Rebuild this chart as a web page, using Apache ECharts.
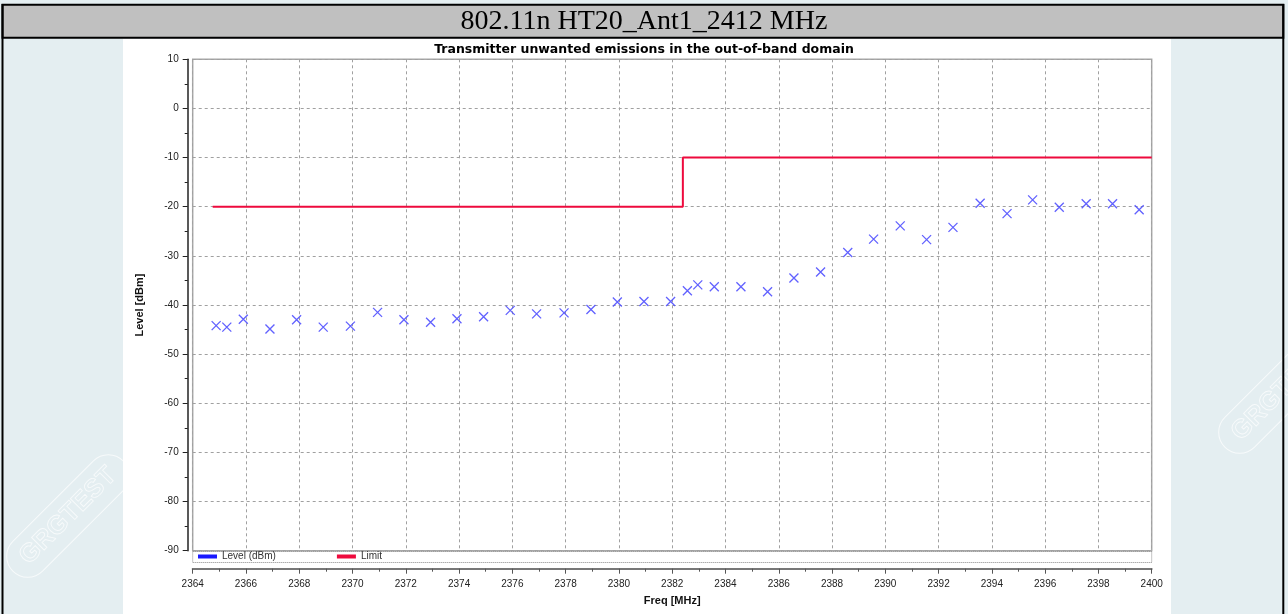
<!DOCTYPE html>
<html>
<head>
<meta charset="utf-8">
<script src="https://cdn.jsdelivr.net/npm/echarts@6/dist/echarts.min.js"></script>
<style>
  html, body { margin: 0; padding: 0; background: #e4eef1; }
  #chart { width: 1288px; height: 614px; }
</style>
</head>
<body>
<div id="chart"></div>
<script>
// Header and chart captions
const pageTitle = '802.11n HT20_Ant1_2412 MHz';
const chartTitle = 'Transmitter unwanted emissions in the out-of-band domain';
const xName = 'Freq [MHz]';
const yName = 'Level [dBm]';
const levelName = 'Level (dBm)';
const limitName = 'Limit';

// Measured emission peaks (MHz, dBm)
const freqMHz = [2364.88, 2365.28, 2365.90, 2366.90, 2367.90, 2368.90, 2369.92, 2370.94,
  2371.93, 2372.93, 2373.92, 2374.92, 2375.92, 2376.91, 2377.94, 2378.95, 2379.94,
  2380.94, 2381.94, 2382.57, 2382.96, 2383.58, 2384.58, 2385.58, 2386.57, 2387.57,
  2388.59, 2389.56, 2390.56, 2391.55, 2392.54, 2393.56, 2394.57, 2395.53, 2396.53,
  2397.54, 2398.53, 2399.53];
const levelDbm = [-44.2, -44.5, -42.9, -44.9, -43.0, -44.5, -44.3, -41.5,
  -43.0, -43.5, -42.8, -42.4, -41.1, -41.8, -41.6, -40.9, -39.4,
  -39.3, -39.3, -37.1, -35.9, -36.3, -36.3, -37.3, -34.5, -33.3,
  -29.3, -26.6, -23.9, -26.7, -24.2, -19.3, -21.4, -18.6, -20.1,
  -19.4, -19.4, -20.6];

// Out-of-band limit mask
const limitFreqMHz = [2364.75, 2382.4, 2382.4, 2400];
const limitDbm = [-20, -20, -10, -10];

// Axis ranges
const xMin = 2364, xMax = 2400, xStep = 2;
const yMin = -90, yMax = 10, yStep = 10;

const levelPoints = freqMHz.map((f, i) => [f, levelDbm[i]]);
const limitPoints = limitFreqMHz.map((f, i) => [f, limitDbm[i]]);

const chart = echarts.init(document.getElementById('chart'), null, { renderer: 'canvas' });

const gridLeft = 192.7, gridRight = 136.3, gridTop = 59.3, gridBottom = 63.3;
const plotW = 1288 - gridLeft - gridRight;

// Faint "GRGTEST" stamp in the page margins
function watermark(cx, cy) {
  return {
    type: 'group', x: cx, y: cy, rotation: Math.PI / 4,
    children: [
      { type: 'rect', z: -20, shape: { x: -78, y: -21, width: 156, height: 42, r: 21 },
        style: { fill: 'transparent', stroke: '#ffffff', lineWidth: 1, opacity: 0.7 } },
      { type: 'text', z: -20, style: { text: 'GRGTEST', x: 0, y: 0, align: 'center', verticalAlign: 'middle',
        font: 'bold 26px "Liberation Sans"', fill: 'transparent', stroke: '#ffffff', lineWidth: 0.9, opacity: 0.7 } }
    ]
  };
}

const axisText = { fontFamily: '"Liberation Sans", Arial, sans-serif', fontSize: 10, color: '#222' };
const nameText = { fontFamily: '"Liberation Sans", Arial, sans-serif', fontSize: 11, fontWeight: 'bold', color: '#111' };

chart.setOption({
  backgroundColor: '#e4eef1',
  animation: false,
  title: [
    { text: pageTitle, left: 'center', top: 8, padding: 0,
      textStyle: { fontFamily: '"Liberation Serif", "Times New Roman", serif', fontSize: 28, fontWeight: 'normal', color: '#000' } },
    { text: chartTitle, left: 'center', top: 43, padding: 0,
      textStyle: { fontFamily: '"DejaVu Sans", sans-serif', fontSize: 12.5, fontWeight: 'bold', color: '#000' } }
  ],
  legend: {
    left: 198, top: 551.5, padding: 0, itemWidth: 19, itemHeight: 4, itemGap: 61,
    textStyle: { fontFamily: '"Liberation Sans", Arial, sans-serif', fontSize: 10, color: '#333' },
    data: [
      { name: levelName, icon: 'rect', itemStyle: { color: '#0000ff', borderWidth: 0 } },
      { name: limitName, icon: 'rect', itemStyle: { color: '#ee0a3d', borderWidth: 0 } }
    ]
  },
  grid: {
    left: gridLeft, right: gridRight, top: gridTop, bottom: gridBottom,
    show: true, backgroundColor: '#ffffff', borderColor: '#a8a8a8', borderWidth: 1.5
  },
  xAxis: {
    type: 'value', min: xMin, max: xMax, interval: xStep, offset: 18,
    name: xName, nameLocation: 'middle', nameGap: 27, nameTextStyle: nameText,
    axisLine: { show: true, onZero: false, lineStyle: { color: '#777', width: 2 } },
    axisTick: { show: true, length: 5, lineStyle: { color: '#555' } },
    minorTick: { show: true, splitNumber: 2, length: 3, lineStyle: { color: '#555' } },
    splitLine: { show: true, lineStyle: { color: '#a0a0a0', type: [3, 3], width: 1 } },
    axisLabel: Object.assign({ margin: 11, formatter: v => String(v) }, axisText)
  },
  yAxis: {
    type: 'value', min: yMin, max: yMax, interval: yStep, offset: 5,
    name: yName, nameLocation: 'middle', nameGap: 42, nameTextStyle: nameText,
    axisLine: { show: true, onZero: false, lineStyle: { color: '#222', width: 1.5 } },
    axisTick: { show: true, length: 5, lineStyle: { color: '#222' } },
    minorTick: { show: true, splitNumber: 2, length: 3, lineStyle: { color: '#222' } },
    splitLine: { show: true, lineStyle: { color: '#a0a0a0', type: [3, 3], width: 1 } },
    axisLabel: Object.assign({ margin: 9 }, axisText)
  },
  series: [
    {
      name: levelName, type: 'scatter', data: levelPoints,
      symbol: 'path://M0,0L10,10M10,0L0,10', symbolSize: 9,
      itemStyle: { color: '#5050ff', borderColor: '#5050ff', borderWidth: 1.3, opacity: 0.9 },
      z: 4
    },
    {
      name: limitName, type: 'line', data: limitPoints, showSymbol: false, symbol: 'none',
      lineStyle: { color: '#ee0a3d', width: 2 }, itemStyle: { color: '#ee0a3d' }, z: 3
    }
  ],
  graphic: [
    watermark(68, 516),
    watermark(1280, 392),
    // white chart panel
    { type: 'rect', z: -10, shape: { x: 123, y: 38.7, width: 1048, height: 580 }, style: { fill: '#ffffff' } },
    // header band (titles are drawn above it)
    { type: 'rect', z: 5, shape: { x: 2.5, y: 4.8, width: 1280.8, height: 32.9 },
      style: { fill: '#c0c0c0', stroke: '#000', lineWidth: 2 } },
    // table borders
    { type: 'line', z: 5, shape: { x1: 2.5, y1: 4, x2: 2.5, y2: 614 }, style: { stroke: '#000', lineWidth: 2 } },
    { type: 'line', z: 5, shape: { x1: 1283.3, y1: 4, x2: 1283.3, y2: 614 }, style: { stroke: '#000', lineWidth: 2 } },
    // dotted legend box under the plot
    { type: 'rect', z: 1, shape: { x: gridLeft, y: 551.5, width: plotW, height: 11 },
      style: { fill: 'transparent', stroke: '#888', lineWidth: 1, lineDash: [1, 1] } }
  ]
});
</script>
</body>
</html>
